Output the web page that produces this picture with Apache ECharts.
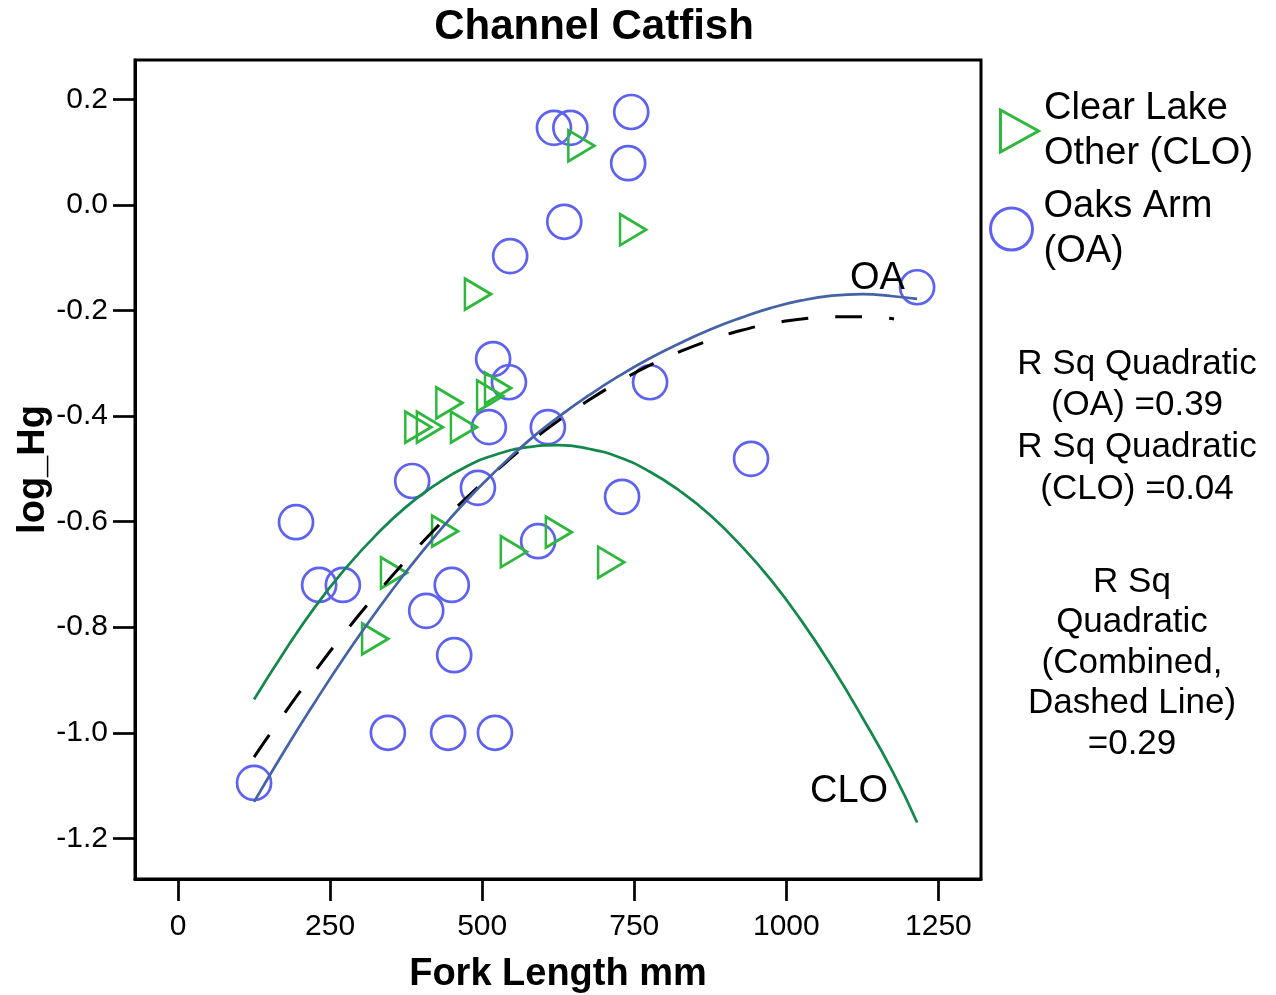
<!DOCTYPE html>
<html>
<head>
<meta charset="utf-8">
<script src="https://cdn.jsdelivr.net/npm/echarts@6/dist/echarts.min.js"></script>
<style>
  html, body { margin: 0; padding: 0; background: #fff; }
  #chart { width: 1276px; height: 995px; }
</style>
</head>
<body>
<div id="chart"></div>
<script>
// Oaks Arm (OA) fish: [fork length mm, log_Hg]
const oaPoints = [
  [125, -1.095], [194, -0.601], [232, -0.720], [271, -0.720], [345, -1.0],
  [385, -0.523], [408, -0.769], [444, -1.0], [450, -0.720], [454, -0.853],
  [493, -0.536], [511, -0.421], [518, -0.292], [521, -1.0], [544, -0.336],
  [546, -0.097], [592, -0.637], [608, -0.421], [618, 0.146], [635, -0.032],
  [645, 0.146], [730, -0.553], [740, 0.079], [745, 0.176], [776, -0.336],
  [942, -0.481], [1215, -0.156]
];
// Clear Lake Other (CLO) fish
const cloPoints = [
  [663, 0.112], [748, -0.047], [493, -0.169], [446, -0.375], [526, -0.347],
  [513, -0.362], [395, -0.421], [414, -0.421], [470, -0.421], [355, -0.697],
  [324, -0.822], [439, -0.618], [552, -0.657], [626, -0.620], [712, -0.677]
];
// quadratic fit lines
const oaFit = [
  [125, -1.131], [175, -1.034], [225, -0.942], [275, -0.854], [325, -0.772],
  [375, -0.695], [425, -0.624], [475, -0.559], [525, -0.501], [575, -0.448],
  [625, -0.402], [675, -0.361], [725, -0.324], [775, -0.291], [825, -0.262],
  [875, -0.236], [925, -0.214], [975, -0.195], [1025, -0.181], [1075, -0.172],
  [1125, -0.169], [1175, -0.173], [1215, -0.178]
];
const cloFit = [
  [125, -0.937], [175, -0.846], [225, -0.762], [275, -0.689], [325, -0.626],
  [375, -0.572], [425, -0.529], [475, -0.495], [525, -0.472], [575, -0.459],
  [625, -0.455], [675, -0.462], [725, -0.478], [775, -0.505], [825, -0.542],
  [875, -0.588], [925, -0.645], [975, -0.711], [1025, -0.788], [1075, -0.875],
  [1125, -0.971], [1175, -1.074], [1215, -1.170]
];
const combinedFit = [
  [125, -1.046], [175, -0.963], [225, -0.884], [275, -0.809], [325, -0.739],
  [375, -0.673], [425, -0.611], [475, -0.554], [525, -0.502], [575, -0.453],
  [625, -0.409], [675, -0.370], [725, -0.335], [775, -0.304], [825, -0.278],
  [875, -0.256], [925, -0.238], [975, -0.225], [1025, -0.216], [1075, -0.212],
  [1125, -0.212], [1177, -0.216]
];
const xTicks = [0, 250, 500, 750, 1000, 1250];
const yTicks = [-1.2, -1.0, -0.8, -0.6, -0.4, -0.2, 0.0, 0.2];

const font = "'Liberation Sans', Arial, sans-serif";
const cloName = 'Clear Lake\nOther (CLO)';
const oaName = 'Oaks Arm\n(OA)';
const oaColor = '#5d62f2';
const cloColor = '#2db83d';
const legendText = { fontSize: 38, lineHeight: 45, color: '#000', fontFamily: font };

const chart = echarts.init(document.getElementById('chart'));
chart.setOption({
  animation: false,
  backgroundColor: '#fff',
  textStyle: { fontFamily: font },
  title: {
    text: 'Channel Catfish',
    left: 594, top: 6, textAlign: 'center', padding: 0,
    textStyle: { fontSize: 42, fontWeight: 'bold', color: '#000', fontFamily: font }
  },
  grid: {
    left: 135, right: 295, top: 60, bottom: 116,
    outerBoundsMode: 'none', containLabel: false,
    show: true, borderColor: '#000', borderWidth: 3, backgroundColor: '#fff'
  },
  legend: [
    {
      left: 994, top: 81, itemWidth: 39, itemHeight: 42, textStyle: legendText,
      data: [{ name: cloName, icon: 'path://M0,0L38,21L0,42Z',
        itemStyle: { color: 'rgba(0,0,0,0)', borderColor: cloColor, borderWidth: 3, opacity: 1 } }]
    },
    {
      left: 984, top: 179, itemWidth: 54, itemHeight: 42, textStyle: legendText,
      data: [{ name: oaName, icon: 'circle',
        itemStyle: { color: 'rgba(0,0,0,0)', borderColor: oaColor, borderWidth: 3, opacity: 1 } }]
    }
  ],
  xAxis: {
    type: 'value', min: -70.7, max: 1320,
    name: 'Fork Length mm', nameLocation: 'middle', nameGap: 77, nameMoveOverlap: false,
    nameTextStyle: { fontSize: 38, fontWeight: 'bold', color: '#000', fontFamily: font },
    axisLine: { show: true, onZero: false, lineStyle: { color: '#000', width: 3 } },
    axisTick: { show: true, length: 22, customValues: xTicks, lineStyle: { color: '#000', width: 2.7 } },
    axisLabel: {
      customValues: xTicks, margin: 33, fontSize: 30, color: '#000', fontFamily: font,
      formatter: v => String(v)
    },
    splitLine: { show: false }
  },
  yAxis: {
    type: 'value', min: -1.277, max: 0.2745,
    name: 'log_Hg', nameLocation: 'middle', nameGap: 82, nameRotate: 90, nameMoveOverlap: false,
    nameTextStyle: { fontSize: 38, fontWeight: 'bold', color: '#000', fontFamily: font },
    axisLine: { show: true, onZero: false, lineStyle: { color: '#000', width: 3 } },
    axisTick: { show: true, length: 22, customValues: yTicks, lineStyle: { color: '#000', width: 2.7 } },
    axisLabel: {
      customValues: yTicks, margin: 27, fontSize: 30, color: '#000', fontFamily: font,
      formatter: v => v.toFixed(1)
    },
    splitLine: { show: false }
  },
  series: [
    {
      name: oaName, type: 'scatter', data: oaPoints,
      symbol: 'circle', symbolSize: 34,
      itemStyle: { color: 'rgba(0,0,0,0)', borderColor: oaColor, borderWidth: 2.7, opacity: 1 },
      z: 2
    },
    {
      name: cloName, type: 'scatter', data: cloPoints,
      symbol: 'triangle', symbolSize: [31, 26], symbolRotate: -90,
      itemStyle: { color: 'rgba(0,0,0,0)', borderColor: cloColor, borderWidth: 2.7, opacity: 1 },
      z: 2
    },
    {
      name: 'Combined', type: 'line', data: combinedFit, smooth: true,
      showSymbol: false, symbol: 'none',
      lineStyle: { color: '#000', width: 3, type: [27, 27], cap: 'butt' },
      z: 3
    },
    {
      name: 'CLO fit', type: 'line', data: cloFit, smooth: true,
      showSymbol: false, symbol: 'none',
      lineStyle: { color: '#12894a', width: 2.7 },
      z: 4
    },
    {
      name: 'OA fit', type: 'line', data: oaFit, smooth: true,
      showSymbol: false, symbol: 'none',
      lineStyle: { color: '#4462a8', width: 2.7 },
      z: 5
    }
  ],
  graphic: [
    { type: 'text', left: 850, top: 260, z: 10,
      style: { text: 'OA', fontSize: 38, fill: '#000', fontFamily: font } },
    { type: 'text', left: 810, top: 773, z: 10,
      style: { text: 'CLO', fontSize: 38, fill: '#000', fontFamily: font } },
    { type: 'text', x: 1137, y: 343, z: 10,
      style: { text: 'R Sq Quadratic\n(OA) =0.39\nR Sq Quadratic\n(CLO) =0.04',
        fontSize: 35, lineHeight: 41.7, align: 'center', verticalAlign: 'top',
        fill: '#000', fontFamily: font } },
    { type: 'text', x: 1132, y: 562, z: 10,
      style: { text: 'R Sq\nQuadratic\n(Combined,\nDashed Line)\n=0.29',
        fontSize: 35, lineHeight: 40.5, align: 'center', verticalAlign: 'top',
        fill: '#000', fontFamily: font } }
  ]
});
</script>
</body>
</html>
